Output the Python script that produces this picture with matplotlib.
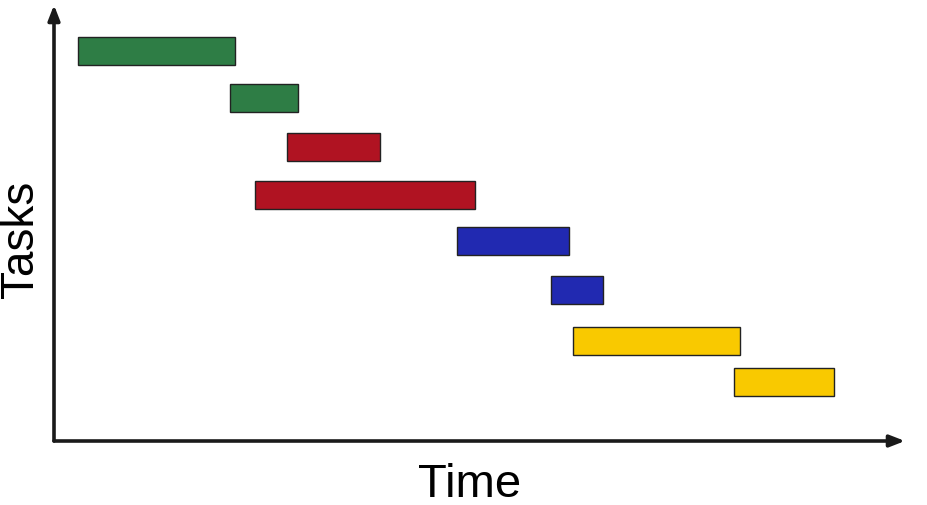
import matplotlib.pyplot as plt

plt.rcParams['font.family'] = ['Liberation Sans', 'DejaVu Sans']

# task bars: start time, duration, lane (vertical level), colour group
starts = [2.4, 17.6, 23.3, 20.1, 40.3, 49.7, 51.9, 68.0]
durations = [15.7, 6.8, 9.3, 22.0, 11.2, 5.2, 16.7, 10.0]
lanes = [39.05, 34.3, 29.45, 24.6, 20.0, 15.1, 10.05, 5.9]
groups = ['green', 'green', 'red', 'red', 'blue', 'blue', 'yellow', 'yellow']

colors = {'green': '#2e7d45', 'red': '#b01322', 'blue': '#2129b1', 'yellow': '#f9c900'}

fig = plt.figure(figsize=(9.28, 5.06), dpi=100)
ax = fig.add_axes([0, 0, 1, 1])
ax.set_xlim(-5.4, 87.4)
ax.set_ylim(-6.4, 44.2)
ax.axis('off')

ax.barh(lanes, durations, left=starts, height=2.8,
        color=[colors[g] for g in groups], edgecolor='#222222', linewidth=1)

# axes drawn as arrows
arrow = dict(arrowstyle='-|>,head_length=0.9,head_width=0.35', color='#1a1a1a', lw=2.6,
             shrinkA=0, shrinkB=0)
ax.annotate('', xy=(85.1, 0), xytext=(0, 0), arrowprops=arrow)
ax.annotate('', xy=(0, 43.6), xytext=(0, 0), arrowprops=arrow)

ax.text(41.6, -4.3, 'Time', fontsize=34, ha='center', va='center')
ax.text(-3.3, 20.3, 'Tasks', fontsize=33, ha='center', va='center', rotation=90)

plt.savefig('out.png', dpi=100)
